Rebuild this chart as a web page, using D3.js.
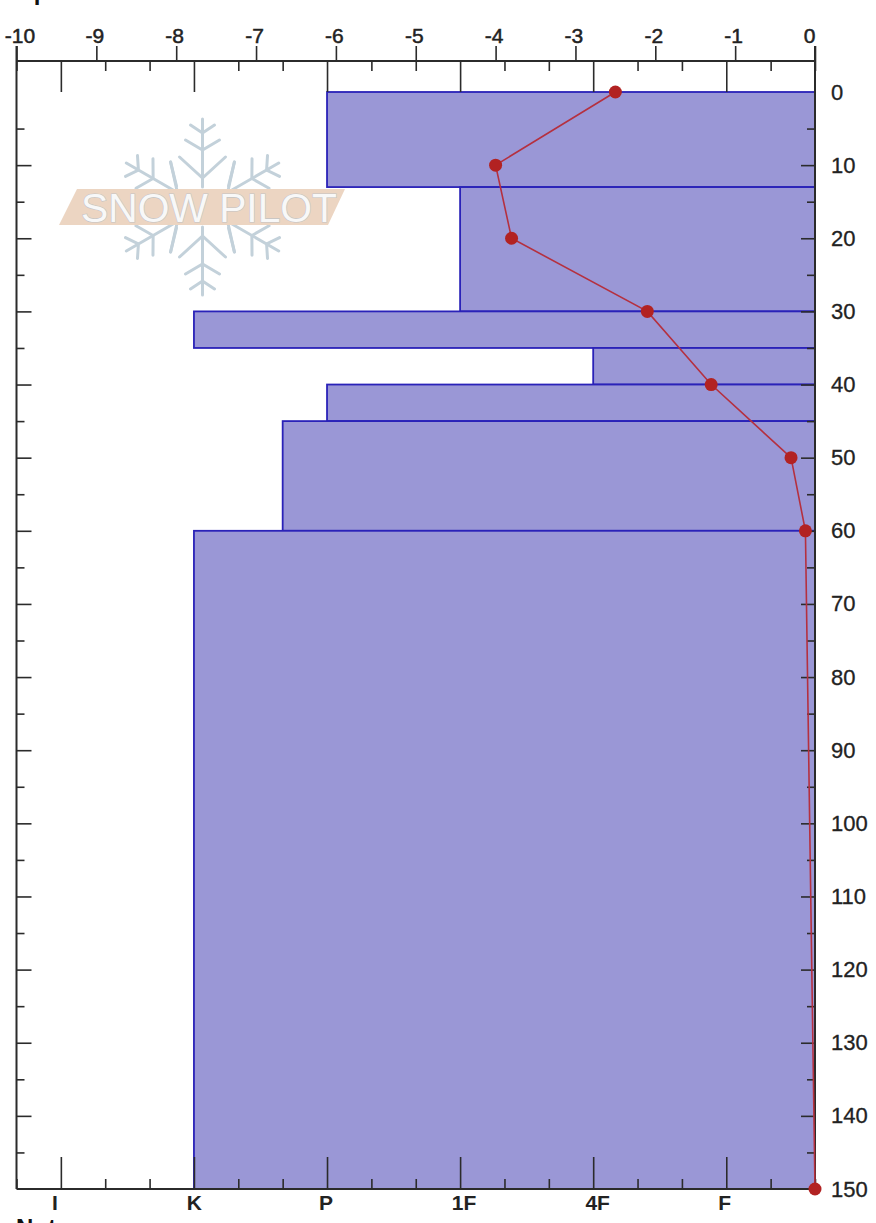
<!DOCTYPE html>
<html><head><meta charset="utf-8">
<script src="https://cdn.jsdelivr.net/npm/d3@7"></script>
<style>
html,body{margin:0;padding:0;background:#fff;overflow:hidden}
svg{display:block}
text{font-family:"Liberation Sans",Arial,sans-serif;fill:#222}
</style></head><body>
<svg id="c" width="876" height="1223"></svg>
<script>
// Layers: top depth, bottom depth, hardness index (F=1 ... I=6, thirds for +/-)
const layerTop    = [0, 13, 30, 35, 40, 45, 60];
const layerBottom = [13, 30, 35, 40, 45, 60, 150];
const layerHard   = [4, 3, 5, 2, 4, 4.3333, 5];
// Temperature profile
const tempDepth = [0, 10, 20, 30, 40, 50, 60, 150];
const tempValue = [-2.5, -4, -3.8, -2.1, -1.3, -0.3, -0.12, 0];
// Axes
const tempTicks = [-10, -9, -8, -7, -6, -5, -4, -3, -2, -1, 0];
const depthLabelTicks = d3.range(0, 151, 10);
const depthMinorTicks = [5,15,25,35,45,55,65,75,85,95,105,115,125,135,145];
const hardTicks = [6, 5, 4, 3, 2, 1];
const hardLabels = ["I", "K", "P", "1F", "4F", "F"];
const hardMinorTicks = [6.3333,5.6667,5.3333,4.6667,4.3333,3.6667,3.3333,2.6667,2.3333,1.6667,1.3333,0.6667,0.3333];

const W = {l:16.5, r:815, t:61, b:1189};
const AXIS = "#2b2b2b";
const svg = d3.select("#c");
const xTemp = d3.scaleLinear().domain([-10, 0]).range([W.l, W.r]);
const xHard = d3.scaleLinear().domain([6.3333, 0.3333]).range([W.l, W.r]);
const y = d3.scaleLinear().domain([0, 150]).range([92, W.b]);

// Headings that the reference crops at the page edges
svg.append("text").attr("x",3).attr("y",0).attr("font-size",24).attr("font-weight","bold").style("fill","#111").text("Depth");
svg.append("text").attr("x",16).attr("y",1236).attr("font-size",24).attr("font-weight","bold").style("fill","#111").text("Notes");

// Logo watermark
const logo = svg.append("g");
const flake = logo.append("g").attr("transform","translate(202.5,207)")
  .attr("stroke","#c3d1da").attr("stroke-width",3).attr("fill","none").attr("stroke-linecap","round");
[0,60,120,180,240,300].forEach(a=>{
  const g = flake.append("g").attr("transform",`rotate(${a})`);
  g.append("path").attr("d","M0,-20L0,-88");
  g.append("path").attr("d","M-23,-50L0,-29L23,-50M-17,-67L0,-57L17,-67M-12,-82L0,-74L12,-82");
});
[[-1,-1],[1,-1],[-1,1],[1,1]].forEach(([sx,sy])=>{
  flake.append("path").attr("d",`M${sx*32},${sy*45}L${sx*26},${sy*21}`);
});
logo.append("polygon").attr("points","77,189 345,189 328,225 59,225").attr("fill","#ecd5c2");
logo.append("text").attr("x",81).attr("y",222).attr("font-size",40)
  .attr("textLength",256).attr("lengthAdjust","spacingAndGlyphs")
  .style("fill","#f8f8f8").style("stroke","#c4c4c4").style("stroke-width",1.2)
  .style("paint-order","stroke").text("SNOW PILOT");

// Layer bars
svg.append("g").selectAll("rect").data(layerHard).join("rect")
  .attr("x",d=>xHard(d))
  .attr("y",(d,i)=>y(layerTop[i]))
  .attr("width",d=>W.r-xHard(d))
  .attr("height",(d,i)=>y(layerBottom[i])-y(layerTop[i]))
  .attr("fill","#9a97d6").attr("stroke","#2a22b8").attr("stroke-width",1.8);

function style(g, width){
  g.selectAll(".domain").remove();
  g.selectAll("line").attr("stroke",AXIS).attr("stroke-width",width||1.6);
  g.selectAll("text").attr("font-size",20).style("fill","#222");
}
// Frame
svg.append("g").attr("stroke",AXIS).attr("stroke-width",2).selectAll("line")
  .data([[W.l,46,W.l,W.b],[W.r,46,W.r,W.b],[W.l,W.t,W.r,W.t],[W.l,W.b,W.r,W.b]])
  .join("line").attr("x1",d=>d[0]).attr("y1",d=>d[1]).attr("x2",d=>d[2]).attr("y2",d=>d[3]);

// Temperature axis (top)
const tempLabelDx = {"-10":3,"0":-6};
svg.append("g").attr("transform",`translate(0,${W.t})`)
  .call(d3.axisTop(xTemp).tickValues(tempTicks).tickSize(15).tickPadding(3).tickFormat(d3.format("d")))
  .call(style)
  .call(g=>g.selectAll("text").attr("x",d=>tempLabelDx[d]!==undefined?tempLabelDx[d]:-2)
     .attr("font-size",21).style("stroke","#222").style("stroke-width",0.5).text(d=>String(d)));

// Hardness ticks, top and bottom
svg.append("g").attr("transform",`translate(0,${W.t})`)
  .call(d3.axisBottom(xHard).tickValues(hardTicks).tickSize(31).tickFormat("")).call(style);
svg.append("g").attr("transform",`translate(0,${W.t})`)
  .call(d3.axisBottom(xHard).tickValues(hardMinorTicks).tickSize(10).tickFormat("")).call(style);
svg.append("g").attr("transform",`translate(0,${W.b})`)
  .call(d3.axisTop(xHard).tickValues(hardTicks).tickSize(32).tickFormat("")).call(style);
svg.append("g").attr("transform",`translate(0,${W.b})`)
  .call(d3.axisTop(xHard).tickValues(hardMinorTicks).tickSize(10).tickFormat("")).call(style);
const hardDx = [-6.5,0,-1.5,3.5,4,-2];
svg.append("g").attr("transform",`translate(0,${W.b})`)
  .call(d3.axisBottom(xHard).tickValues(hardTicks).tickSize(0).tickPadding(6).tickFormat((d,i)=>hardLabels[i]))
  .call(style)
  .call(g=>g.selectAll("text").attr("x",(d,i)=>hardDx[i]).attr("font-weight","bold").attr("font-size",21));

// Depth ticks, both sides
const majorD = depthLabelTicks.filter(d=>d>0&&d<150);
svg.append("g").attr("transform",`translate(${W.r},0)`)
  .call(d3.axisLeft(y).tickValues(majorD).tickSize(14).tickFormat("")).call(style);
svg.append("g").attr("transform",`translate(${W.r},0)`)
  .call(d3.axisLeft(y).tickValues(depthMinorTicks).tickSize(8).tickFormat("")).call(style);
svg.append("g").attr("transform",`translate(${W.l},0)`)
  .call(d3.axisRight(y).tickValues(majorD).tickSize(15).tickFormat("")).call(style);
svg.append("g").attr("transform",`translate(${W.l},0)`)
  .call(d3.axisRight(y).tickValues(depthMinorTicks).tickSize(8).tickFormat("")).call(style);
svg.append("g").attr("transform",`translate(${W.r},0)`)
  .call(d3.axisRight(y).tickValues(depthLabelTicks).tickSize(0).tickPadding(16))
  .call(style)
  .call(g=>g.selectAll("text").attr("font-size",22).style("stroke","#222").style("stroke-width",0.3));

// Temperature line and points
const line = d3.line().x(d=>xTemp(tempValue[d])).y(d=>y(tempDepth[d]));
svg.append("path").attr("d",line(d3.range(tempDepth.length)))
  .attr("fill","none").attr("stroke","#b5303f").attr("stroke-width",1.6);
svg.append("g").selectAll("circle").data(tempDepth).join("circle")
  .attr("cx",(d,i)=>xTemp(tempValue[i])).attr("cy",d=>y(d)).attr("r",6.5).attr("fill","#b22222");
</script>
</body></html>
